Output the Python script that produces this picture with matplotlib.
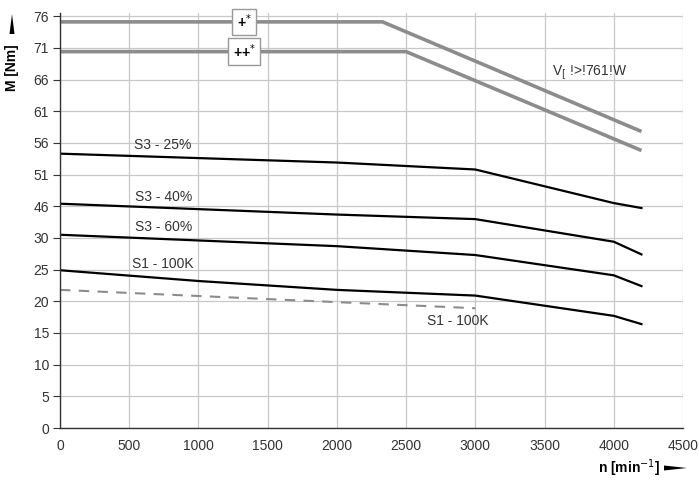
import numpy as np
import matplotlib.pyplot as plt
from matplotlib.patches import Polygon

plt.rcParams["font.family"] = ["Liberation Sans", "DejaVu Sans"]

# y axis is broken between 30 and 46: ticks are evenly spaced
y_tick_vals = [0, 5, 10, 15, 20, 25, 30, 46, 51, 56, 61, 66, 71, 76]
x_ticks = [0, 500, 1000, 1500, 2000, 2500, 3000, 3500, 4000, 4500]

# gray limit curves
gray_top_x = [0, 2330, 4200]
gray_top_y = [75.1, 75.1, 57.8]
gray_bot_x = [0, 2500, 4200]
gray_bot_y = [70.4, 70.4, 54.8]

# operating curves
n_pts = [0, 2000, 3000, 4000, 4200]
s3_25 = [54.3, 52.9, 51.8, 46.5, 45.1]
s3_40 = [46.4, 41.8, 39.5, 29.4, 27.4]
s3_60 = [31.6, 28.7, 27.3, 24.1, 22.4]
s1_x = [0, 1000, 2000, 3000, 4000, 4200]
s1_100k = [24.9, 23.2, 21.8, 20.9, 17.7, 16.4]
s1_dash_x = [0, 3000]
s1_dash_y = [21.8, 18.9]


def to_axis(v):
    return np.interp(v, [0, 30, 46, 76], [0, 30, 35, 65])


fig = plt.figure(figsize=(6.99, 4.83), dpi=100)
ax = fig.add_axes([60 / 699, 55 / 483, 623 / 699, 415 / 483])

ax.plot(gray_top_x, to_axis(gray_top_y), color="#8c8c8c", lw=2.6, solid_capstyle="butt")
ax.plot(gray_bot_x, to_axis(gray_bot_y), color="#8c8c8c", lw=2.6, solid_capstyle="butt")
for ys, xs in [(s3_25, n_pts), (s3_40, n_pts), (s3_60, n_pts), (s1_100k, s1_x)]:
    ax.plot(xs, to_axis(ys), color="black", lw=1.6)
ax.plot(s1_dash_x, to_axis(s1_dash_y), color="#8c8c8c", lw=1.5, dashes=(5, 4))

box = dict(boxstyle="square,pad=0.35", fc="white", ec="#999999", lw=1)
ax.text(1330, to_axis(75.1), "+$^{*}$", ha="center", va="center", fontsize=10,
        fontweight="bold", bbox=box, zorder=5)
ax.text(1330, to_axis(70.4), "++$^{*}$", ha="center", va="center", fontsize=10,
        fontweight="bold", bbox=box, zorder=5)
ax.text(3555, to_axis(67.0), "V$_{[}$ !>!761!W", ha="left", va="center",
        fontsize=10, color="#333333")

lab = dict(ha="center", va="center", fontsize=10, color="#333333")
ax.text(745, 44.6, "S3 - 25%", **lab)
ax.text(745, 36.4, "S3 - 40%", **lab)
ax.text(745, 31.7, "S3 - 60%", **lab)
ax.text(745, 25.9, "S1 - 100K", **lab)
ax.text(2875, 16.9, "S1 - 100K", **lab)

ax.set_xlim(0, 4500)
ax.set_ylim(0, 65.5)
ax.set_xticks(x_ticks)
ax.set_yticks(to_axis(y_tick_vals))
ax.set_yticklabels([str(v) for v in y_tick_vals])
ax.grid(True, color="#c8c8c8", lw=0.9)
ax.set_axisbelow(True)
for s in ["top", "right"]:
    ax.spines[s].set_visible(False)
for s in ["left", "bottom"]:
    ax.spines[s].set_color("#333333")
    ax.spines[s].set_linewidth(1.0)
ax.tick_params(axis="y", length=5, width=0.8, color="#333333", pad=3,
               labelsize=10, labelcolor="#333333")
ax.tick_params(axis="x", length=0, pad=8, labelsize=10, labelcolor="#333333")

# axis titles with wedge arrows
fig.text(12 / 699, (483 - 68) / 483, "M [Nm]", rotation=90, ha="center",
         va="center", fontsize=10, fontweight="bold")
fig.patches.append(Polygon([(9.5 / 699, (483 - 34) / 483), (14.5 / 699, (483 - 34) / 483),
                            (12 / 699, (483 - 14) / 483)], closed=True,
                           transform=fig.transFigure, fc="black", ec="none"))
fig.text(660 / 699, (483 - 468) / 483, "n [min$^{-1}$]", ha="right", va="center",
         fontsize=10, fontweight="bold")
fig.patches.append(Polygon([(664 / 699, (483 - 465.5) / 483), (664 / 699, (483 - 470.5) / 483),
                            (687 / 699, (483 - 468) / 483)], closed=True,
                           transform=fig.transFigure, fc="black", ec="none"))

fig.savefig("out.png", dpi=100)
